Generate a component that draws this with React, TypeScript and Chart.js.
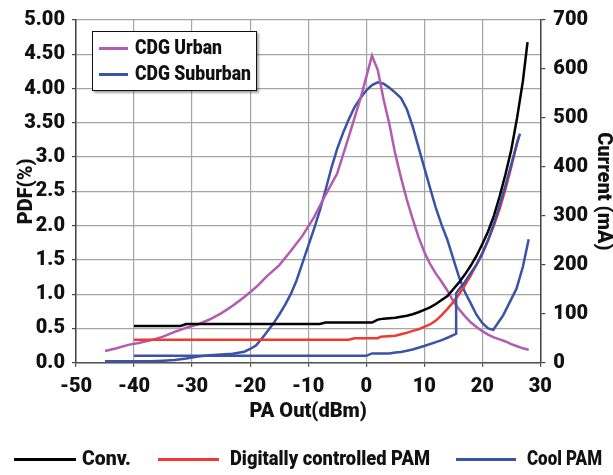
import React, { useEffect, useRef, useState } from "react";
import { Chart, registerables } from "chart.js";

Chart.register(...registerables);

const FONT = 'Roboto, "Liberation Sans", sans-serif';

// PDF series (left axis, %)
const urbanX = [-45, -43, -41, -39, -37, -35, -33, -31, -29, -27, -25, -23, -21, -19, -17, -15, -13, -11, -9, -7, -5, -3, -1, 1, 2, 3, 4, 5, 6, 7, 8, 9, 10, 11, 12, 13, 14, 15, 16, 17, 18, 19, 20, 21, 22, 23, 24, 25, 26, 27, 28];
const urbanY = [0.17, 0.21, 0.26, 0.29, 0.33, 0.38, 0.45, 0.51, 0.56, 0.63, 0.72, 0.83, 0.96, 1.10, 1.27, 1.42, 1.63, 1.85, 2.12, 2.45, 2.76, 3.30, 3.85, 4.48, 4.27, 3.84, 3.48, 3.05, 2.70, 2.38, 2.10, 1.84, 1.62, 1.44, 1.30, 1.18, 1.05, 0.90, 0.78, 0.68, 0.59, 0.52, 0.46, 0.41, 0.37, 0.34, 0.31, 0.27, 0.24, 0.21, 0.19];

const suburbanX = [-45, -41, -37, -35, -33, -31, -29, -27, -25, -23, -21, -20, -19, -18, -17, -16, -15, -14, -13, -12, -11, -10, -9, -8, -7, -6, -5, -4, -3, -2, -1, 0, 1, 2, 3, 4, 5, 6, 7, 8, 9, 10, 11, 12, 13, 14, 15, 16, 17, 18, 19, 20, 21, 21.9, 23.6, 25.9, 27, 28];
const suburbanY = [0.02, 0.02, 0.02, 0.03, 0.04, 0.06, 0.09, 0.11, 0.12, 0.13, 0.16, 0.20, 0.25, 0.35, 0.46, 0.57, 0.70, 0.84, 1.00, 1.20, 1.45, 1.70, 1.95, 2.22, 2.52, 2.84, 3.12, 3.35, 3.55, 3.73, 3.86, 3.97, 4.05, 4.09, 4.07, 4.01, 3.94, 3.86, 3.70, 3.45, 3.15, 2.85, 2.55, 2.26, 2.01, 1.79, 1.52, 1.25, 1.03, 0.87, 0.70, 0.58, 0.50, 0.48, 0.69, 1.08, 1.40, 1.80];

// Current series (right axis, mA)
const convX = [-40, -32, -31, -8, -7, 1, 2, 3, 5, 7, 8, 9, 10, 11, 12, 13, 14, 15, 16, 17, 18, 19, 20, 21, 22, 23, 24, 25, 26, 27, 27.8];
const convY = [75, 75, 79, 79, 82, 82, 88, 90, 92, 96, 99, 103, 108, 113, 120, 128, 136, 150, 164, 180, 198, 218, 242, 268, 300, 340, 385, 435, 500, 575, 655];

const digitalX = [-40, -3, -2, 2, 2.5, 5, 6, 7, 8, 9, 10, 11, 12, 13, 14, 15, 16, 17, 18, 19, 20, 21, 22, 23, 24, 25, 26, 26.3];
const digitalY = [47, 47, 50, 50, 53, 55, 58, 61, 65, 68, 73, 78, 86, 97, 110, 124, 140, 158, 178, 200, 224, 250, 280, 314, 355, 400, 450, 462];

const coolX = [-40, 0, 1, 4, 5, 6, 8, 10, 12, 13, 14, 15.5, 15.5, 16, 17, 18, 19, 20, 21, 22, 23, 24, 25, 26, 26.5];
const coolY = [14, 14, 19, 19, 21, 22, 27, 34, 42, 46, 51, 59, 142, 150, 165, 183, 200, 222, 250, 284, 322, 362, 405, 448, 468];

const pdfTickLabels = ["0.0", "0.5", "1.0", "1.5", "2.0", "2.5", "3.0", "3.50", "4.00", "4.50", "5.00"];

const PURPLE = "#B35BB0";
const BLUE = "#3A53A6";
const RED = "#EE3A2F";
const BLACK = "#000000";

const pts = (xs: number[], ys: number[]) => xs.map((x, i) => ({ x, y: ys[i] }));

const tickFont = { family: FONT, size: 20, weight: "900" as const };
const titleFont = { family: FONT, size: 20, weight: "900" as const, lineHeight: 1 };

// Text squeezed horizontally to a target width (mimics a condensed face)
function FitText({ text, left, cy, width, size }: { text: string; left: number; cy: number; width: number; size: number }) {
  const [scale, setScale] = useState(1);
  useEffect(() => {
    const c = document.createElement("canvas").getContext("2d")!;
    c.font = `900 ${size}px ${FONT}`;
    const w = c.measureText(text).width;
    if (w > 0) setScale(width / w);
  }, [text, width, size]);
  return (
    <div
      style={{
        position: "absolute",
        left,
        top: cy - size * 0.6,
        fontFamily: FONT,
        fontWeight: 900,
        fontSize: size,
        lineHeight: `${size * 1.2}px`,
        color: "#111",
        whiteSpace: "nowrap",
        transform: `scaleX(${scale})`,
        transformOrigin: "0 50%",
      }}
    >
      {text}
    </div>
  );
}

export default function App() {
  const ref = useRef<HTMLCanvasElement>(null);

  useEffect(() => {
    const chart = new Chart(ref.current!, {
      type: "line",
      data: {
        datasets: [
          { label: "Cool PAM", data: pts(coolX, coolY), yAxisID: "y1", borderColor: BLUE, borderWidth: 2.5 },
          { label: "Conv.", data: pts(convX, convY), yAxisID: "y1", borderColor: BLACK, borderWidth: 2.5 },
          { label: "Digitally controlled PAM", data: pts(digitalX, digitalY), yAxisID: "y1", borderColor: RED, borderWidth: 2.5 },
          { label: "CDG Urban", data: pts(urbanX, urbanY), yAxisID: "y", borderColor: PURPLE, borderWidth: 2.5 },
          { label: "CDG Suburban", data: pts(suburbanX, suburbanY), yAxisID: "y", borderColor: BLUE, borderWidth: 2.5 },
        ],
      },
      options: {
        animation: false,
        responsive: false,
        maintainAspectRatio: false,
        layout: { padding: { top: 19, left: 0, right: 0, bottom: 40 } },
        elements: { point: { radius: 0 }, line: { tension: 0, fill: false } },
        plugins: { legend: { display: false }, tooltip: { enabled: false } },
        scales: {
          x: {
            type: "linear",
            min: -50,
            max: 30,
            ticks: { stepSize: 10, font: tickFont, color: "#111", padding: 8 },
            grid: { color: "#A5A5A5", lineWidth: 1.2, tickLength: 4, tickColor: "#444" },
            border: { color: "#555", width: 1.5 },
            title: { display: true, text: "PA Out(dBm)", font: titleFont, color: "#111", padding: { top: 0, bottom: 13 } },
            afterFit: (s: any) => { s.height = 72.3; },
          },
          y: {
            position: "left",
            min: 0,
            max: 5,
            ticks: {
              stepSize: 0.5,
              font: tickFont,
              color: "#111",
              padding: 7,
              callback: (v: any) => pdfTickLabels[Math.round(Number(v) * 2)],
            },
            grid: { color: "#A5A5A5", lineWidth: 1.2, tickLength: 4, tickColor: "#444" },
            border: { color: "#444", width: 1.5 },
            title: { display: true, text: "PDF(%)", font: titleFont, color: "#111", padding: { top: 17, bottom: 0 } },
            afterFit: (s: any) => { s.width = 76; },
          },
          y1: {
            position: "right",
            min: 0,
            max: 700,
            ticks: { stepSize: 100, font: tickFont, color: "#111", padding: 8 },
            grid: { drawOnChartArea: false, tickLength: 5, tickColor: "#444", lineWidth: 1.2 },
            border: { color: "#444", width: 1.5 },
            title: { display: true, text: "Current (mA)", font: titleFont, color: "#111", padding: { top: 0, bottom: 0 } },
            afterFit: (s: any) => { s.width = 72.7; },
          },
        },
      },
    });
    return () => chart.destroy();
  }, []);

  const lineStyle = (left: number, cy: number, width: number, color: string): React.CSSProperties => ({
    position: "absolute",
    left,
    top: cy - 1.5,
    width,
    height: 3,
    background: color,
  });

  return (
    <div style={{ position: "fixed", left: 0, top: 0, width: 613, height: 475, background: "#fff" }}>
      <canvas ref={ref} width={613} height={475} style={{ display: "block", width: 613, height: 475 }} />
      <div
        style={{
          position: "absolute",
          left: 92,
          top: 31,
          width: 163,
          height: 58,
          border: "1.5px solid #111",
          background: "#fff",
          boxShadow: "2px 2px 2px rgba(0,0,0,0.35)",
        }}
      >
        <div style={lineStyle(6, 16, 29, PURPLE)} />
        <FitText text="CDG Urban" left={42} cy={16} width={87} size={21} />
        <div style={lineStyle(6, 42, 29, BLUE)} />
        <FitText text="CDG Suburban" left={42} cy={42} width={116} size={21} />
      </div>
      <div style={lineStyle(14, 459, 62, BLACK)} />
      <FitText text="Conv." left={82} cy={459} width={49} size={21} />
      <div style={lineStyle(158, 459, 61, RED)} />
      <FitText text="Digitally controlled PAM" left={230} cy={459} width={200} size={21} />
      <div style={lineStyle(456, 459, 60, BLUE)} />
      <FitText text="Cool PAM" left={527} cy={459} width={75} size={21} />
    </div>
  );
}
